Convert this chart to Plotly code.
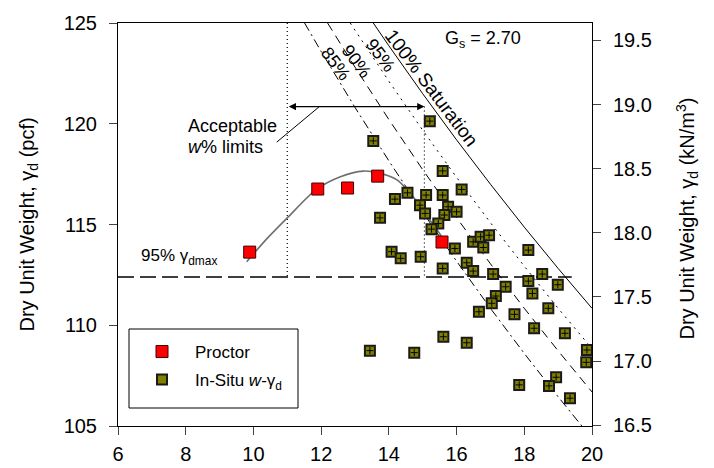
import plotly.graph_objects as go

# ---------------- data ----------------
proctor_w = [9.89, 11.90, 12.78, 13.67, 15.57]
proctor_g = [113.63, 116.76, 116.81, 117.40, 114.13]

insitu_w = [13.54, 15.21, 15.59, 16.15, 14.18, 14.55, 15.10, 15.59, 14.92, 15.07,
            15.75, 16.00, 15.64, 15.46, 13.74, 15.26, 15.95, 16.49, 16.71, 16.96,
            16.79, 14.08, 14.35, 14.94, 15.59, 16.30, 16.49, 17.08, 18.12, 18.53,
            18.12, 18.99, 17.45, 18.24, 17.16, 17.04, 16.66, 17.71, 18.71, 18.29,
            19.20, 13.44, 14.75, 15.61, 16.30, 19.85, 19.83, 17.85, 18.94, 18.73,
            19.35]
insitu_g = [119.15, 120.13, 117.66, 116.74, 116.26, 116.57, 116.46, 116.46, 115.96, 115.55,
            115.88, 115.63, 115.47, 115.05, 115.33, 114.77, 113.81, 114.14, 114.39, 114.47,
            113.86, 113.65, 113.32, 113.40, 112.82, 113.10, 112.69, 112.54, 113.73, 112.54,
            112.19, 112.01, 111.91, 111.58, 111.45, 111.09, 110.67, 110.54, 110.84, 109.85,
            109.60, 108.74, 108.64, 109.43, 109.13, 108.77, 108.16, 107.04, 107.42, 106.99,
            106.38]

fit_w = [9.80, 10.40, 11.03, 11.86, 12.55, 13.24, 13.83, 14.25, 14.87, 15.21, 15.56, 15.66]
fit_g = [113.15, 114.30, 115.38, 116.74, 117.36, 117.65, 117.50, 117.20, 116.05, 115.22, 114.39, 113.89]

sat100_w = [13.54, 14, 15, 16, 17, 18, 19, 20]
sat100_g = [125.0, 123.87, 121.49, 119.20, 117.00, 114.87, 112.82, 110.84]
sat95_w = [12.86, 13, 14, 15, 16, 17, 18, 19, 20]
sat95_g = [125.0, 124.65, 122.11, 119.68, 117.34, 115.09, 112.93, 110.84, 108.84]
sat90_w = [12.19, 13, 14, 15, 16, 17, 18, 19, 20]
sat90_g = [125.0, 122.81, 120.21, 117.72, 115.34, 113.05, 110.84, 108.73, 106.69]
sat85_w = [11.51, 12, 13, 14, 15, 16, 17, 18, 19, 19.70]
sat85_g = [125.0, 123.59, 120.81, 118.16, 115.61, 113.18, 110.84, 108.60, 106.45, 105.0]

gamma_95 = 112.4             # 95% of max dry unit weight (pcf)
gamma_95_w = [6, 19.4]
accept_w = [11.0, 15.05]     # acceptable moisture limits
limit_top = [125.0, 120.85]  # top ends of the two limit lines
arrow_g = 120.85
leader_w = [10.69, 11.96]
leader_g = [119.09, 120.87]

x_ticks = [6, 8, 10, 12, 14, 16, 18, 20]
y_ticks = [105, 110, 115, 120, 125]
kn_ticks = [16.5, 17.0, 17.5, 18.0, 18.5, 19.0, 19.5]
PCF_TO_KN = 0.157087

FONT = "Arial, Liberation Sans, sans-serif"

fig = go.Figure()

# saturation lines
for ws, gs, dash in [(sat100_w, sat100_g, "solid"), (sat95_w, sat95_g, "2px,5px"),
                     (sat90_w, sat90_g, "9px,6px"), (sat85_w, sat85_g, "9px,4px,2px,4px")]:
    fig.add_trace(go.Scatter(x=ws, y=gs, mode="lines", showlegend=False, hoverinfo="skip",
                             line=dict(color="black", width=1, dash=dash)))

# 95% gamma dmax line
fig.add_trace(go.Scatter(x=gamma_95_w, y=[gamma_95, gamma_95], mode="lines", showlegend=False,
                         hoverinfo="skip", line=dict(color="black", width=1.5, dash="16px,6px")))
# acceptable limit lines
for wv, top in zip(accept_w, limit_top):
    fig.add_trace(go.Scatter(x=[wv, wv], y=[top, gamma_95], mode="lines", showlegend=False,
                             hoverinfo="skip", line=dict(color="black", width=1.2, dash="1px,3px")))
# leader line
fig.add_trace(go.Scatter(x=leader_w, y=leader_g, mode="lines", showlegend=False, hoverinfo="skip",
                         line=dict(color="black", width=1)))
# compaction curve
fig.add_trace(go.Scatter(x=fit_w, y=fit_g, mode="lines", showlegend=False, hoverinfo="skip",
                         line=dict(color="#707070", width=1.6, shape="spline", smoothing=0.8)))

# in-situ points
fig.add_trace(go.Scatter(x=insitu_w, y=insitu_g, mode="markers", name="In-Situ <i>w</i>-γ<sub>d</sub>",
                         legend="legend2",
                         marker=dict(symbol="square", size=10, color="#808000",
                                     line=dict(color="#1a1a1a", width=2))))
fig.add_trace(go.Scatter(x=insitu_w, y=insitu_g, mode="markers", showlegend=False, hoverinfo="skip",
                         marker=dict(symbol="cross-thin", size=5, line=dict(color="black", width=1))))
# proctor points
fig.add_trace(go.Scatter(x=proctor_w, y=proctor_g, mode="markers", name="Proctor",
                         legend="legend",
                         marker=dict(symbol="square", size=12, color="#ff0000",
                                     line=dict(color="#400000", width=1))))

# secondary axis holder
fig.add_trace(go.Scatter(x=[None], y=[None], yaxis="y2", showlegend=False, hoverinfo="skip"))

L, R, T, B = 118, 122, 23, 42
W, H = 714, 468
pw, ph = W - L - R, H - T - B


def px2paper(px, py):
    return (px - L) / pw, (H - B - py) / ph


anns = []
# arrow
anns.append(dict(x=accept_w[1], y=arrow_g, ax=accept_w[0], ay=arrow_g, xref="x", yref="y",
                 axref="x", ayref="y", text="", showarrow=True, arrowhead=2, arrowside="end+start",
                 arrowsize=1.2, arrowwidth=1.2, arrowcolor="black", standoff=0, startstandoff=0))
# texts
anns.append(dict(x=px2paper(186, 0)[0], y=px2paper(0, 126)[1], xref="paper", yref="paper",
                 text="Acceptable", showarrow=False, xanchor="left", yanchor="middle",
                 font=dict(size=18, color="black", family=FONT)))
anns.append(dict(x=px2paper(186, 0)[0], y=px2paper(0, 147)[1], xref="paper", yref="paper",
                 text="<i>w</i>% limits", showarrow=False, xanchor="left", yanchor="middle",
                 font=dict(size=18, color="black", family=FONT)))
anns.append(dict(x=px2paper(139, 0)[0], y=px2paper(0, 257)[1], xref="paper", yref="paper",
                 text="95% γ<sub>dmax</sub>", showarrow=False, xanchor="left", yanchor="middle",
                 font=dict(size=17, color="black", family=FONT)))
anns.append(dict(x=px2paper(443, 0)[0], y=px2paper(0, 40)[1], xref="paper", yref="paper",
                 text="G<sub>s</sub> = 2.70", showarrow=False, xanchor="left", yanchor="middle",
                 font=dict(size=18, color="black", family=FONT)))
for txt, cx, cy, fs in [("100% Saturation", 431, 88, 19), ("95%", 380.5, 54.5, 18),
                        ("90%", 356.5, 60.5, 18), ("85%", 336, 63.5, 18)]:
    px_, py_ = px2paper(cx, cy)
    anns.append(dict(x=px_, y=py_, xref="paper", yref="paper", text=txt, showarrow=False,
                     textangle=53, xanchor="center", yanchor="middle",
                     font=dict(size=fs, color="black", family=FONT)))
# axis titles
anns.append(dict(x=0, y=0.5, xref="paper", yref="paper", xshift=-(L - 28), text="Dry Unit Weight, γ<sub>d</sub> (pcf)",
                 textangle=-90, showarrow=False, xanchor="center", yanchor="middle",
                 font=dict(size=20, color="black", family=FONT)))
anns.append(dict(x=1, y=0.5, xref="paper", yref="paper", xshift=95, yshift=6,
                 text="Dry Unit Weight, γ<sub>d</sub> (kN/m<sup>3</sup>)",
                 textangle=-90, showarrow=False, xanchor="center", yanchor="middle",
                 font=dict(size=20, color="black", family=FONT)))

lx0, ly0 = px2paper(129, 329)
lx1, ly1 = px2paper(298, 408)
shapes = [dict(type="rect", xref="paper", yref="paper", x0=lx0, x1=lx1, y0=ly1, y1=ly0,
               line=dict(color="black", width=1), fillcolor="rgba(0,0,0,0)")]

leg_x = px2paper(129, 0)[0]
axis_common = dict(ticks="outside", ticklen=8, tickwidth=1, showline=True, linecolor="black",
                   linewidth=1, showgrid=False, zeroline=False, automargin=False,
                   tickfont=dict(size=20, family=FONT))
fig.update_layout(
    width=W, height=H, autosize=False,
    margin=dict(l=L, r=R, t=T, b=B),
    paper_bgcolor="white", plot_bgcolor="white",
    font=dict(family=FONT, size=19, color="black"),
    xaxis=dict(range=[6, 20], tickvals=x_ticks, mirror=True, ticklabelstandoff=2, **axis_common),
    yaxis=dict(range=[105, 125], tickvals=y_ticks, ticklabelstandoff=8, **axis_common),
    yaxis2=dict(range=[105 * PCF_TO_KN, 125 * PCF_TO_KN], overlaying="y", side="right",
                tickvals=kn_ticks, ticktext=[f"{v:.1f}" for v in kn_ticks],
                ticklabelstandoff=8, **axis_common),
    legend=dict(x=leg_x, y=px2paper(0, 352)[1], xanchor="left", yanchor="middle",
                bgcolor="rgba(0,0,0,0)", borderwidth=0, itemwidth=56,
                font=dict(size=17, family=FONT)),
    legend2=dict(x=leg_x, y=px2paper(0, 380)[1], xanchor="left", yanchor="middle",
                 bgcolor="rgba(0,0,0,0)", borderwidth=0, itemwidth=56,
                 font=dict(size=17, family=FONT)),
    annotations=anns, shapes=shapes,
)

fig.write_html("out.html")
